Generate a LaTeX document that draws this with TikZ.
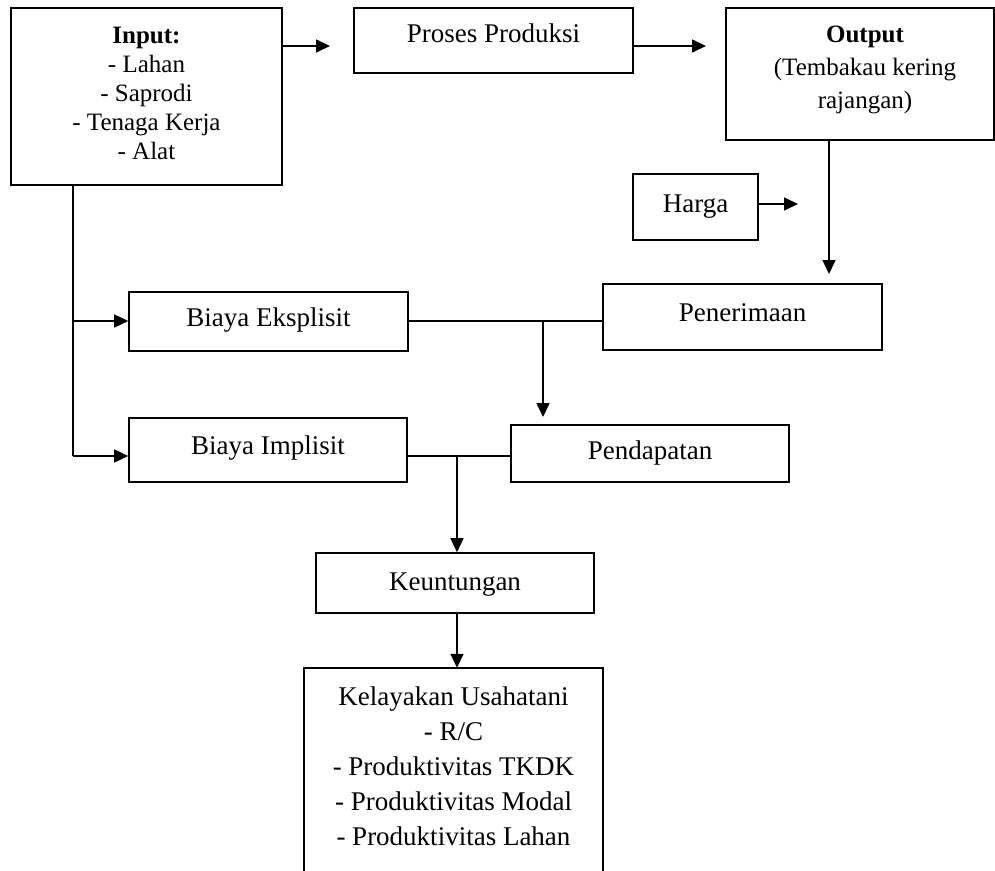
\documentclass[tikz,border=0pt]{standalone}
\usepackage{fontspec}
\setmainfont{Liberation Serif}
\usetikzlibrary{arrows.meta}
\begin{document}
\begin{tikzpicture}[x=1pt,y=-1pt,
  box/.style={draw, line width=1.6pt, rectangle, inner sep=0pt},
  conn/.style={line width=1.6pt},
  arr/.style={conn, -{Triangle[length=14pt,width=13pt]}},
  big/.style={font=\fontsize{27}{31}\selectfont, align=center},
  mid/.style={font=\fontsize{25}{29}\selectfont, align=center}]
\useasboundingbox (0,0) rectangle (995,870);

\node[box, minimum width=271pt, minimum height=177pt,
  label={[mid, yshift=3pt]center:{\textbf{Input:}\\- Lahan\\- Saprodi\\- Tenaga Kerja\\- Alat}}]
  (Input) at (146.5,96.5) {};
\node[box, minimum width=279pt, minimum height=65pt,
  label={[big, yshift=7pt]center:Proses Produksi}]
  (Proses) at (493.5,40.5) {};
\node[box, minimum width=268pt, minimum height=132pt,
  label={[font=\fontsize{25}{33}\selectfont, align=center, xshift=5pt, yshift=4pt]center:{\textbf{Output}\\(Tembakau kering\\rajangan)}}]
  (Output) at (860,74) {};
\node[box, minimum width=125pt, minimum height=66pt,
  label={[big]center:Harga}]
  (Harga) at (695.5,207) {};
\node[box, minimum width=279pt, minimum height=66pt,
  label={[big, yshift=4pt]center:Penerimaan}]
  (Penerimaan) at (742.5,317) {};
\node[box, minimum width=279pt, minimum height=59pt,
  label={[big, yshift=1pt]center:Biaya Eksplisit}]
  (BiayaE) at (268.5,321.5) {};
\node[box, minimum width=278pt, minimum height=64pt,
  label={[big, yshift=2pt]center:Biaya Implisit}]
  (BiayaI) at (268,450) {};
\node[box, minimum width=278pt, minimum height=57pt,
  label={[big]center:Pendapatan}]
  (Pendapatan) at (650,453.5) {};
\node[box, minimum width=278pt, minimum height=60pt,
  label={[big, yshift=-2pt]center:Keuntungan}]
  (Keuntungan) at (455,583) {};
\node[rectangle, inner sep=0pt, minimum width=299pt, minimum height=232pt,
  label={[font=\fontsize{27}{35}\selectfont, align=center, anchor=north, yshift=-15pt]north:{Kelayakan Usahatani\\- R/C\\- Produktivitas TKDK\\- Produktivitas Modal\\- Produktivitas Lahan}}]
  (Kelayakan) at (453.5,784) {};
\draw[conn] (Kelayakan.south west) -- (Kelayakan.north west) -- (Kelayakan.north east) -- (Kelayakan.south east);

% connectors
\coordinate (a1) at (330,46);
\draw[arr] (Input.east |- a1) -- (a1);
\coordinate (a2) at (706,46);
\draw[arr] (Proses.east |- a2) -- (a2);
\coordinate (a3) at (829,274);
\draw[arr] (Output.south -| a3) -- (a3);
\coordinate (a4) at (798,204);
\draw[arr] (Harga.east |- a4) -- (a4);

\coordinate (j1) at (543,321);
\draw[conn] (Penerimaan.west |- j1) -- (BiayaE.east |- j1);
\coordinate (a5) at (543,417);
\draw[arr] (j1) -- (a5);

\coordinate (c1) at (73,0);
\coordinate (r1) at (0,321);
\coordinate (r2) at (0,456);
\draw[conn] (Input.south -| c1) -- (c1 |- r2);
\draw[arr] (c1 |- r1) -- (BiayaE.west |- r1);
\draw[arr] (c1 |- r2) -- (BiayaI.west |- r2);

\draw[conn] (BiayaI.east |- r2) -- (Pendapatan.west |- r2);
\coordinate (j2) at (457,456);
\draw[arr] (j2) -- (Keuntungan.north -| j2);
\draw[arr] (Keuntungan.south -| j2) -- (Kelayakan.north -| j2);
\end{tikzpicture}
\end{document}
